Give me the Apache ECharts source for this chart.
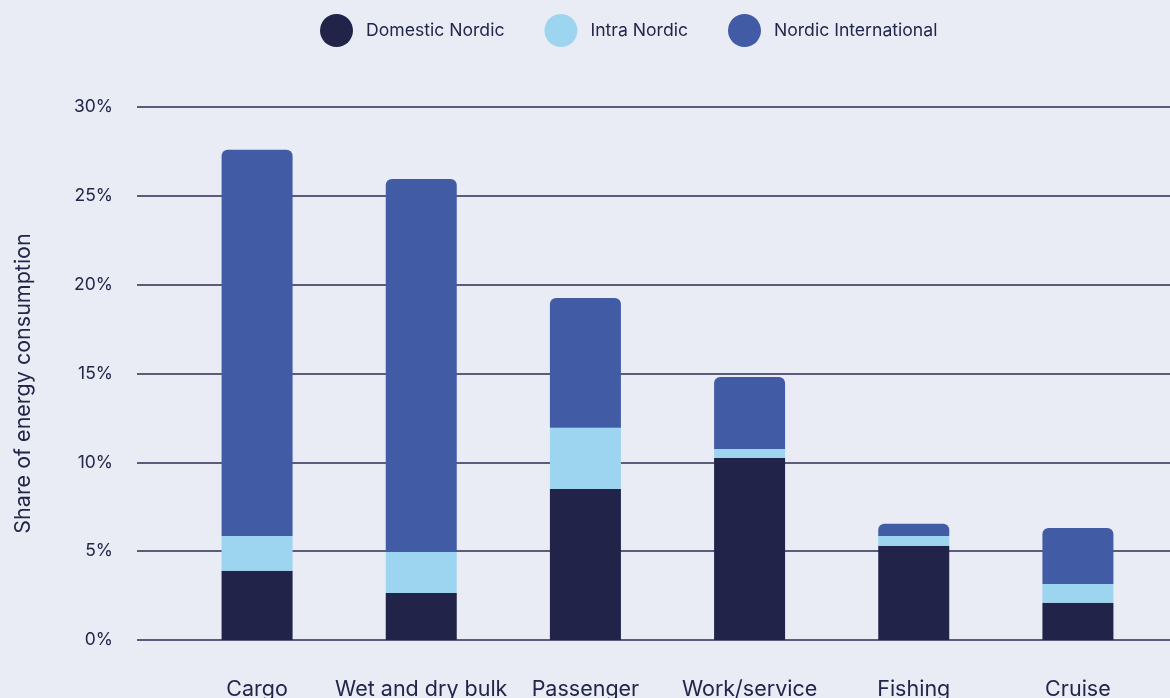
<!DOCTYPE html>
<html>
<head>
<meta charset="utf-8">
<script src="https://cdn.jsdelivr.net/npm/echarts@6/dist/echarts.min.js"></script>
<style>
  html, body { margin: 0; padding: 0; background: #e9ecf5; }
  #chart { width: 1170px; height: 698px; }
</style>
</head>
<body>
<div id="chart"></div>
<script>
// share of energy consumption (%)
const categories = ['Cargo', 'Wet and dry bulk', 'Passenger', 'Work/service', 'Fishing', 'Cruise'];
const domesticNordic = [3.9, 2.65, 8.5, 10.25, 5.3, 2.1];
const intraNordic = [1.95, 2.3, 3.45, 0.5, 0.55, 1.05];
const nordicInternational = [21.75, 21.0, 7.3, 4.05, 0.7, 3.15];
const yTicks = [0, 5, 10, 15, 20, 25, 30];

const textColor = '#22264a';
const font = 'Inter';

const chart = echarts.init(document.getElementById('chart'));

chart.setOption({
  backgroundColor: '#e9ecf5',
  textStyle: { fontFamily: font, color: textColor },
  legend: {
    top: 9,
    left: 315,
    icon: 'circle',
    itemWidth: 33,
    itemHeight: 33,
    itemGap: 40,
    textStyle: { fontFamily: font, fontSize: 17.6, color: textColor, padding: [0, 0, 0, 8] },
    data: ['Domestic Nordic', 'Intra Nordic', 'Nordic International']
  },
  // grid 0 carries the gridlines and tick labels, grid 1 carries the bars
  grid: [
    { left: 137, right: 0, top: 107, bottom: 58, containLabel: false, outerBoundsMode: 'none' },
    { left: 175, right: 10, top: 107, bottom: 58, containLabel: false, outerBoundsMode: 'none' }
  ],
  xAxis: [
    { gridIndex: 0, type: 'value', min: 0, max: 1, show: false },
    {
      gridIndex: 1,
      type: 'category',
      data: categories,
      axisLine: { show: false },
      axisTick: { show: false },
      axisLabel: { fontFamily: font, fontSize: 21.5, color: textColor, margin: 39, interval: 0 }
    }
  ],
  yAxis: [
    {
      gridIndex: 0,
      type: 'value',
      min: yTicks[0],
      max: yTicks[yTicks.length - 1],
      interval: 5,
      name: 'Share of energy consumption',
      nameLocation: 'middle',
      nameGap: 102,
      nameTextStyle: { fontFamily: font, fontSize: 21.5, color: textColor, padding: [0, 20, 0, 0] },
      axisLine: { show: false },
      axisTick: { show: false },
      axisLabel: {
        fontFamily: font, fontSize: 17.5, color: textColor, margin: 24,
        formatter: v => v + '%'
      },
      splitLine: { lineStyle: { color: '#2a2d50', width: 1.5 } }
    },
    {
      gridIndex: 1,
      type: 'value',
      min: yTicks[0],
      max: yTicks[yTicks.length - 1],
      show: false
    }
  ],
  series: [
    {
      name: 'Domestic Nordic',
      type: 'bar',
      stack: 'total',
      xAxisIndex: 1,
      yAxisIndex: 1,
      barWidth: 71,
      itemStyle: { color: '#212348' },
      data: domesticNordic
    },
    {
      name: 'Intra Nordic',
      type: 'bar',
      stack: 'total',
      xAxisIndex: 1,
      yAxisIndex: 1,
      barWidth: 71,
      itemStyle: { color: '#9dd5f1' },
      data: intraNordic
    },
    {
      name: 'Nordic International',
      type: 'bar',
      stack: 'total',
      xAxisIndex: 1,
      yAxisIndex: 1,
      barWidth: 71,
      itemStyle: { color: '#425ba5', borderRadius: [6, 6, 0, 0] },
      data: nordicInternational
    }
  ]
});
</script>
</body>
</html>
